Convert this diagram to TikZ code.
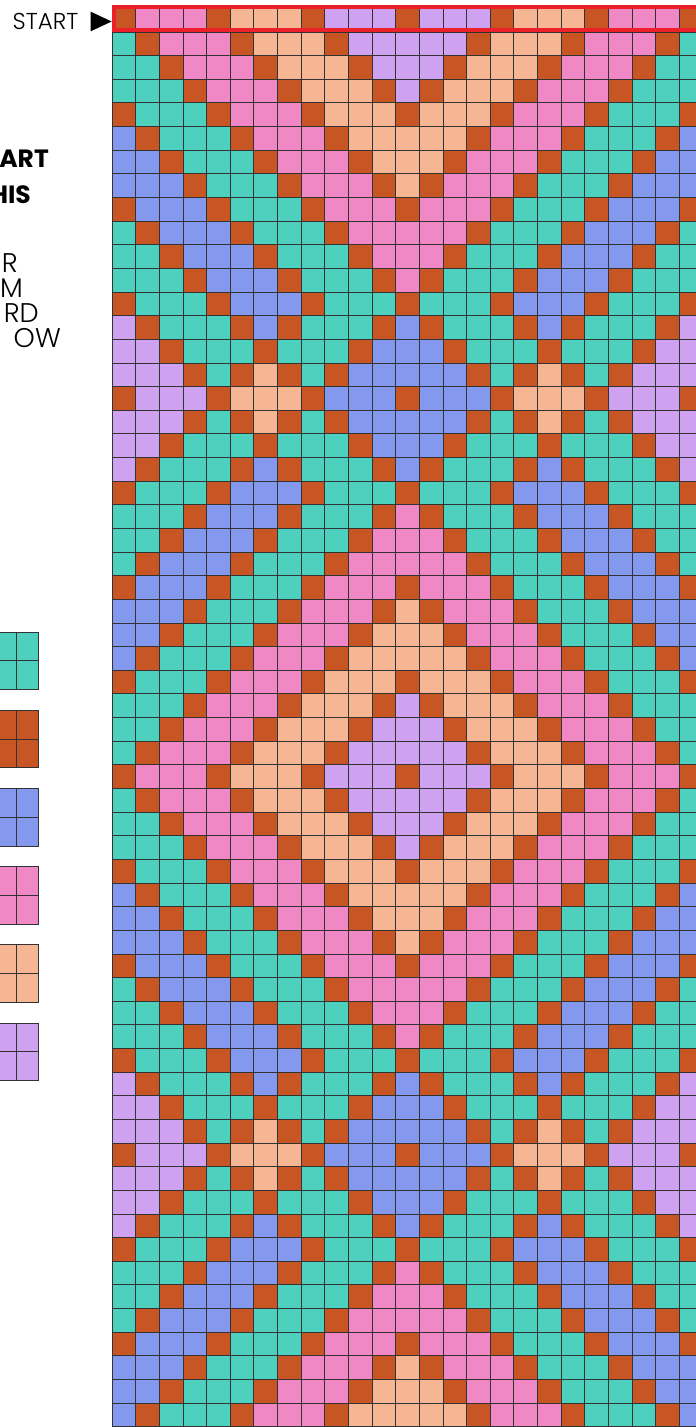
\documentclass[tikz,border=0pt]{standalone}
\usepackage{fontspec}
\setmainfont{Poppins}
\newfontfamily\lightfont{Poppins Light}
\definecolor{cT}{RGB}{78,208,190}
\definecolor{cB}{RGB}{200,86,36}
\definecolor{cL}{RGB}{132,152,238}
\definecolor{cP}{RGB}{240,136,198}
\definecolor{cO}{RGB}{246,182,148}
\definecolor{cV}{RGB}{206,162,240}
\definecolor{redbox}{RGB}{236,32,40}
\expandafter\def\csname rw0\endcsname{B,P,P,P,B,O,O,O,B,V,V,V,B,V,V,V,B,O,O,O,B,P,P,P,B}
\expandafter\def\csname rw1\endcsname{T,B,P,P,P,B,O,O,O,B,V,V,V,V,V,B,O,O,O,B,P,P,P,B,T}
\expandafter\def\csname rw2\endcsname{T,T,B,P,P,P,B,O,O,O,B,V,V,V,B,O,O,O,B,P,P,P,B,T,T}
\expandafter\def\csname rw3\endcsname{T,T,T,B,P,P,P,B,O,O,O,B,V,B,O,O,O,B,P,P,P,B,T,T,T}
\expandafter\def\csname rw4\endcsname{B,T,T,T,B,P,P,P,B,O,O,O,B,O,O,O,B,P,P,P,B,T,T,T,B}
\expandafter\def\csname rw5\endcsname{L,B,T,T,T,B,P,P,P,B,O,O,O,O,O,B,P,P,P,B,T,T,T,B,L}
\expandafter\def\csname rw6\endcsname{L,L,B,T,T,T,B,P,P,P,B,O,O,O,B,P,P,P,B,T,T,T,B,L,L}
\expandafter\def\csname rw7\endcsname{L,L,L,B,T,T,T,B,P,P,P,B,O,B,P,P,P,B,T,T,T,B,L,L,L}
\expandafter\def\csname rw8\endcsname{B,L,L,L,B,T,T,T,B,P,P,P,B,P,P,P,B,T,T,T,B,L,L,L,B}
\expandafter\def\csname rw9\endcsname{T,B,L,L,L,B,T,T,T,B,P,P,P,P,P,B,T,T,T,B,L,L,L,B,T}
\expandafter\def\csname rw10\endcsname{T,T,B,L,L,L,B,T,T,T,B,P,P,P,B,T,T,T,B,L,L,L,B,T,T}
\expandafter\def\csname rw11\endcsname{T,T,T,B,L,L,L,B,T,T,T,B,P,B,T,T,T,B,L,L,L,B,T,T,T}
\expandafter\def\csname rw12\endcsname{B,T,T,T,B,L,L,L,B,T,T,T,B,T,T,T,B,L,L,L,B,T,T,T,B}
\expandafter\def\csname rw13\endcsname{V,B,T,T,T,B,L,B,T,T,T,B,L,B,T,T,T,B,L,B,T,T,T,B,V}
\expandafter\def\csname rw14\endcsname{V,V,B,T,T,T,B,T,T,T,B,L,L,L,B,T,T,T,B,T,T,T,B,V,V}
\expandafter\def\csname rw15\endcsname{V,V,V,B,T,B,O,B,T,B,L,L,L,L,L,B,T,B,O,B,T,B,V,V,V}
\expandafter\def\csname rw16\endcsname{B,V,V,V,B,O,O,O,B,L,L,L,B,L,L,L,B,O,O,O,B,V,V,V,B}
\begin{document}
\begin{tikzpicture}[x=1pt,y=-1pt,
  cellbox/.style={draw=black!80,line width=0.8pt},
  lighttext/.style={anchor=base east,inner sep=0pt,font=\lightfont\fontsize{27}{27}\selectfont},
  boldtext/.style={anchor=base east,inner sep=0pt,font=\bfseries\fontsize{25}{25}\selectfont}]
\clip (0,0) rectangle (696,1427);
\fill[white] (0,0) rectangle (696,1427);
% chart grid
\foreach \m [count=\ri from 0] in {0,1,2,3,4,5,6,7,8,9,10,11,12,13,14,15,16,15,14,13,12,11,10,9,8,7,6,5,4,3,2,1,0,1,2,3,4,5,6,7,8,9,10,11,12,13,14,15,16,15,14,13,12,11,10,9,8,7,6,5}{
  \expandafter\let\expandafter\currow\csname rw\m\endcsname
  \foreach \k [count=\ci from 0] in \currow {
    \path[cellbox,fill=c\k] ({112+\ci*23.64},{8.3+\ri*23.64}) rectangle ++(23.64,23.64);
  }
}
% start marker
\draw[redbox,line width=4pt] (113.6,6.6) rectangle (720,30.2);
\node[lighttext,anchor=base west,font=\lightfont\fontsize{23}{23}\selectfont] (start) at (12.5,29) {START};
\fill (90.7,11.7) -- (111.7,21.5) -- (90.7,31.3) -- cycle;
% left texts
\node[boldtext] (t1) at (49,167) {ART};
\node[boldtext] (t2) at (31,203) {HIS};
\node[lighttext] (t3) at (18,272) {R};
\node[lighttext] (t4) at (23,297) {M};
\node[lighttext] (t5) at (39,322) {RD};
\node[lighttext] (t6) at (61,347) {OW};
% legend swatches
\foreach \k [count=\i from 0] in {T,B,L,P,O,V}{
  \foreach \a in {0,1}{\foreach \b in {0,1}{
    \path[cellbox,fill=c\k] ({-6+\a*22},{632+\i*78.2+\b*28.8}) rectangle ++(22,28.8);
  }}
}
\end{tikzpicture}
\end{document}
